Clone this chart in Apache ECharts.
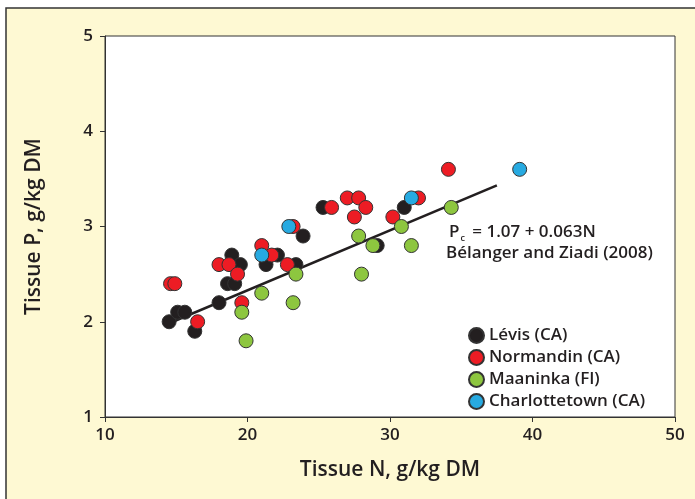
<!DOCTYPE html>
<html>
<head>
<meta charset="utf-8">
<script src="https://cdn.jsdelivr.net/npm/echarts@6/dist/echarts.min.js"></script>
<style>
  html, body { margin: 0; padding: 0; background: #fff; }
  #chart { width: 695px; height: 499px; }
</style>
</head>
<body>
<div id="chart"></div>
<script>
// site data: [tissue N, tissue P] g/kg DM
const levis = [
  [14.5, 2.0], [15.1, 2.1], [15.6, 2.1], [16.3, 1.9], [18.0, 2.2], [18.6, 2.4],
  [18.9, 2.7], [19.1, 2.4], [19.5, 2.6], [21.3, 2.6], [22.1, 2.7], [23.4, 2.6],
  [23.9, 2.9], [25.3, 3.2], [29.1, 2.8], [31.0, 3.2]
]
const normandin = [
  [14.6, 2.4], [14.9, 2.4], [16.5, 2.0], [18.0, 2.6], [18.7, 2.6], [19.3, 2.5],
  [19.6, 2.2], [21.0, 2.8], [21.7, 2.7], [22.8, 2.6], [23.2, 3.0], [25.9, 3.2],
  [27.0, 3.3], [27.8, 3.3], [28.3, 3.2], [27.5, 3.1], [30.2, 3.1], [32.0, 3.3],
  [34.1, 3.6]
]
const maaninka = [
  [19.6, 2.1], [19.9, 1.8], [21.0, 2.3], [23.2, 2.2], [23.4, 2.5], [27.8, 2.9],
  [28.0, 2.5], [28.8, 2.8], [30.8, 3.0], [31.5, 2.8], [34.3, 3.2]
]
const charlottetown = [
  [21.0, 2.7], [22.9, 3.0], [31.5, 3.3], [39.1, 3.6]
]
// critical P line Pc = 1.07 + 0.063N, drawn between these N values
const lineEnds = [[14.8, 2.0024], [37.5, 3.4325]]

const siteNames = ['Lévis (CA)', 'Normandin (CA)', 'Maaninka (FI)', 'Charlottetown (CA)']
const siteColors = ['#231f20', '#ed1c24', '#8dc63f', '#27aae1']
const siteData = [levis, normandin, maaninka, charlottetown]

const FONT = 'Open Sans'
const chart = echarts.init(document.getElementById('chart'))

const scatterSeries = siteData.map((d, i) => ({
  name: siteNames[i],
  type: 'scatter',
  data: d,
  symbolSize: 14,
  itemStyle: { color: siteColors[i], borderColor: '#333', borderWidth: 1, opacity: 1 },
  z: 3
}))

chart.setOption({
  animation: false,
  backgroundColor: '#fff',
  textStyle: { fontFamily: FONT },
  graphic: [{
    type: 'rect',
    shape: { x: 6, y: 8, width: 700, height: 500 },
    style: { fill: '#fef9d3', stroke: '#333', lineWidth: 1.5 },
    z: -10,
    silent: true
  }, {
    type: 'text',
    left: 449,
    top: 224,
    z: 10,
    style: {
      text: '{p|P}{s|c}{p| = 1.07 + 0.063N}',
      rich: {
        p: { fontSize: 17, fontWeight: 600, fill: '#231f20', fontFamily: FONT },
        s: { fontSize: 9, fontWeight: 600, fill: '#231f20', fontFamily: FONT, padding: [12, 3, 0, 1] }
      }
    }
  }, {
    type: 'text',
    left: 446,
    top: 245,
    z: 10,
    style: {
      text: 'Bélanger and Ziadi (2008)',
      fontSize: 17,
      fontWeight: 600,
      fill: '#231f20',
      fontFamily: FONT
    }
  }],
  grid: {
    left: 105, top: 36, width: 570, height: 381,
    show: true, backgroundColor: '#fff', borderColor: '#333', borderWidth: 1
  },
  legend: {
    orient: 'vertical',
    left: 463,
    top: 322,
    itemWidth: 15,
    itemHeight: 15,
    itemGap: 5,
    data: siteNames.map(n => ({ name: n, icon: 'circle' })),
    textStyle: { fontSize: 17, fontWeight: 600, color: '#231f20', fontFamily: FONT }
  },
  xAxis: {
    type: 'value',
    min: 10, max: 50, interval: 10,
    name: 'Tissue N, g/kg DM',
    nameLocation: 'middle',
    nameGap: 43,
    nameTextStyle: { fontSize: 21, fontWeight: 600, color: '#231f20' },
    axisLine: { show: true, onZero: false, lineStyle: { color: '#333' } },
    axisTick: { show: true, length: 5, lineStyle: { color: '#333' } },
    axisLabel: { fontSize: 17, fontWeight: 600, color: '#231f20', margin: 10 },
    splitLine: { show: false }
  },
  yAxis: {
    type: 'value',
    min: 1, max: 5, interval: 1,
    name: 'Tissue P, g/kg DM',
    nameLocation: 'middle',
    nameGap: 60,
    nameTextStyle: { fontSize: 21, fontWeight: 600, color: '#231f20' },
    axisLine: { show: true, onZero: false, lineStyle: { color: '#333' } },
    axisTick: { show: true, length: 5, lineStyle: { color: '#333' } },
    axisLabel: { fontSize: 17, fontWeight: 600, color: '#231f20', margin: 12 },
    splitLine: { show: false }
  },
  series: [{
    name: 'Pc',
    type: 'line',
    data: lineEnds,
    symbol: 'none',
    lineStyle: { color: '#231f20', width: 2.5 },
    z: 2,
    silent: true
  }].concat(scatterSeries)
})
</script>
</body>
</html>
